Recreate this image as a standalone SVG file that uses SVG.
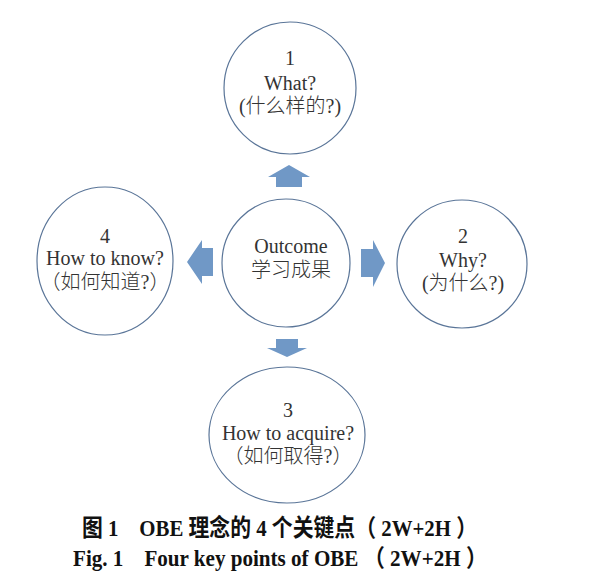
<svg xmlns="http://www.w3.org/2000/svg" width="600" height="585" viewBox="0 0 600 585">
<style>
.node{fill:#ffffff;stroke:#5a7598;stroke-width:1.2}
.arrow{fill:#7098c6}
.t{font-family:"Liberation Serif","Noto Sans CJK SC",serif;font-size:20px;font-weight:300;fill:#333333;text-anchor:middle}
.cap{font-family:"Liberation Serif","Noto Sans CJK SC",serif;font-size:24px;font-weight:bold;fill:#111111}
</style>
<rect width="600" height="585" fill="#ffffff"/>
<g id="connectors">
<polygon class="arrow" points="289,165 310,177 302,177 302,187 276,187 276,177 268,177"/>
<polygon class="arrow" points="287,357 307,348 298,348 298,339 276,339 276,348 267,348"/>
<polygon class="arrow" points="187,262 202,240 202,248 213,248 213,276 202,276 202,284"/>
<polygon class="arrow" points="385,263 373,240 373,249 361,249 361,277 373,277 373,287"/>
</g>
<g id="node-center">
<circle class="node" cx="286" cy="263" r="64"/>
<text class="t" x="291" y="253">Outcome</text>
<text class="t" x="291" y="277">学习成果</text>
</g>
<g id="node-1">
<circle class="node" cx="290" cy="88" r="66"/>
<text class="t" x="290" y="65">1</text>
<text class="t" x="290" y="90">What?</text>
<text class="t" x="290" y="113">(什么样的?)</text>
</g>
<g id="node-2">
<ellipse class="node" cx="462" cy="264" rx="65" ry="64"/>
<text class="t" x="463" y="243">2</text>
<text class="t" x="463" y="267">Why?</text>
<text class="t" x="463" y="290">(为什么?)</text>
</g>
<g id="node-3">
<ellipse class="node" cx="287" cy="435" rx="78" ry="68"/>
<text class="t" x="288" y="417">3</text>
<text class="t" x="288" y="440">How to acquire?</text>
<text class="t" x="288" y="463">（如何取得?）</text>
</g>
<g id="node-4">
<ellipse class="node" cx="105" cy="261" rx="68" ry="74"/>
<text class="t" x="105" y="243">4</text>
<text class="t" x="105" y="265">How to know?</text>
<text class="t" x="105" y="289">（如何知道?）</text>
</g>
<g id="caption">
<text class="cap" x="82" y="536" textLength="395" lengthAdjust="spacingAndGlyphs">图 1　OBE 理念的 4 个关键点（ 2W+2H ）</text>
<text class="cap" x="73" y="566" textLength="414" lengthAdjust="spacingAndGlyphs">Fig. 1　Four key points of OBE （ 2W+2H ）</text>
</g>
</svg>
